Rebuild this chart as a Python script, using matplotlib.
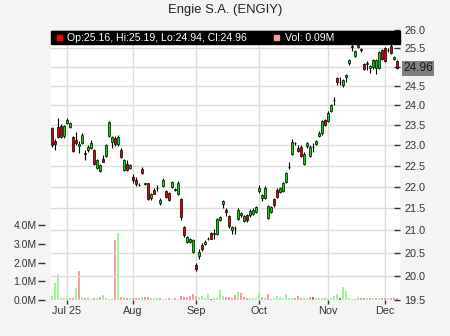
import matplotlib
matplotlib.use("Agg")
import matplotlib.pyplot as plt
import matplotlib.ticker as mticker
from matplotlib.patches import Rectangle
import pandas as pd

plt.rcParams['font.family'] = ['Liberation Sans', 'DejaVu Sans']

TITLE = "Engie S.A. (ENGIY)"

# trading days shown on the chart (NYSE holidays removed)
holidays = ["2025-07-04", "2025-09-01", "2025-11-27"]
dates = pd.bdate_range("2025-06-24", "2025-12-05")
dates = dates[~dates.isin(pd.to_datetime(holidays))]

opens = [23.42, 23.09, 23.44, 23.48, 23.22, 23.54, 23.44, 23.19, 23.12, 22.98,
         23.05, 22.80, 22.87, 22.94, 22.87, 22.45, 22.37, 22.67, 22.74, 23.22,
         23.07, 23.18, 23.02, 22.87, 22.40, 22.55, 22.45, 22.23, 22.15, 22.05,
         22.43, 22.08, 22.08, 21.74, 21.92, 21.97, 21.62, 22.03, 21.90, 21.86,
         21.99, 21.94, 21.84, 21.72, 21.08, 20.74, 20.75, 20.52, 20.25, 20.43,
         20.68, 20.70, 20.81, 20.95, 20.93, 20.93, 21.24, 21.61, 21.47, 21.32,
         21.00, 21.06, 21.26, 21.34, 21.21, 21.34, 21.34, 21.38, 21.42, 21.90,
         21.75, 21.74, 21.29, 21.42, 21.72, 21.93, 21.88, 21.90, 22.11, 22.47,
         22.78, 23.04, 22.94, 22.96, 22.55, 22.97, 22.73, 22.96, 23.02, 23.23,
         23.29, 23.62, 23.59, 23.85, 24.12, 24.70, 24.61, 24.52, 24.73, 25.09,
         25.52, 25.30, 25.54, 25.47, 25.07, 25.08, 24.98, 25.00, 24.98, 24.96,
         25.45, 25.50, 25.46, 25.55, 25.20, 25.16]
highs = [23.45, 23.15, 23.68, 23.52, 23.50, 23.68, 23.57, 23.22, 23.32, 23.09,
         23.31, 22.87, 22.99, 23.12, 22.90, 22.67, 22.55, 22.75, 23.02, 23.60,
         23.22, 23.22, 23.24, 22.92, 22.67, 22.63, 22.55, 22.31, 22.23, 22.08,
         22.46, 22.10, 22.10, 21.85, 21.97, 22.04, 21.73, 22.20, 21.93, 21.88,
         22.14, 21.97, 22.13, 21.75, 21.10, 20.88, 20.84, 20.82, 20.29, 20.58,
         20.71, 20.78, 20.85, 20.97, 21.04, 21.29, 21.33, 21.70, 21.50, 21.35,
         21.10, 21.11, 21.50, 21.42, 21.35, 21.37, 21.48, 21.50, 21.56, 22.04,
         21.84, 22.01, 21.58, 21.56, 21.75, 21.96, 21.99, 22.11, 22.35, 22.60,
         23.14, 23.08, 22.99, 22.99, 22.82, 23.07, 22.99, 23.04, 23.13, 23.34,
         23.62, 23.65, 23.84, 24.03, 24.21, 24.73, 24.72, 24.68, 24.82, 25.21,
         25.62, 25.45, 25.63, 25.50, 25.10, 25.16, 25.06, 25.21, 25.20, 25.42,
         25.48, 25.52, 25.50, 25.61, 25.30, 25.19]
lows = [22.95, 22.87, 23.18, 23.18, 23.18, 23.52, 23.41, 22.82, 23.00, 22.80,
        23.02, 22.64, 22.84, 22.91, 22.52, 22.42, 22.34, 22.58, 22.70, 23.19,
        22.92, 22.98, 22.98, 22.68, 22.37, 22.38, 22.42, 22.08, 22.01, 22.01,
        22.30, 22.05, 21.70, 21.70, 21.82, 21.90, 21.57, 22.00, 21.73, 21.67,
        21.96, 21.90, 21.81, 21.23, 20.86, 20.71, 20.72, 20.50, 20.12, 20.38,
        20.55, 20.67, 20.78, 20.80, 20.80, 20.90, 21.21, 21.51, 21.32, 21.06,
        20.93, 20.93, 21.23, 21.31, 21.18, 21.20, 21.31, 21.35, 21.39, 21.86,
        21.68, 21.71, 21.26, 21.39, 21.54, 21.73, 21.85, 21.87, 22.08, 22.43,
        22.75, 23.00, 22.84, 22.70, 22.52, 22.94, 22.70, 22.84, 22.99, 23.20,
        23.26, 23.46, 23.56, 23.82, 24.00, 24.52, 24.52, 24.48, 24.60, 25.05,
        25.42, 25.27, 25.50, 25.40, 24.91, 24.91, 24.84, 24.95, 24.82, 24.93,
        25.17, 25.14, 25.40, 25.35, 25.17, 24.94]
closes = [23.00, 23.02, 23.20, 23.21, 23.47, 23.61, 23.54, 22.86, 23.04, 23.03,
          23.25, 22.79, 22.96, 23.06, 22.55, 22.64, 22.52, 22.60, 22.99, 23.57,
          23.19, 23.02, 23.21, 22.71, 22.64, 22.40, 22.51, 22.15, 22.07, 22.04,
          22.33, 22.07, 21.72, 21.82, 21.84, 21.96, 21.70, 22.17, 21.76, 21.70,
          22.11, 21.93, 22.10, 21.30, 20.89, 20.85, 20.81, 20.79, 20.16, 20.53,
          20.58, 20.75, 20.82, 20.82, 20.94, 21.26, 21.30, 21.67, 21.42, 21.09,
          21.07, 21.06, 21.47, 21.39, 21.32, 21.23, 21.45, 21.47, 21.53, 21.98,
          21.81, 21.98, 21.55, 21.53, 21.57, 21.76, 21.96, 22.08, 22.32, 22.47,
          23.08, 23.04, 22.86, 22.73, 22.79, 23.04, 22.96, 22.96, 23.10, 23.31,
          23.59, 23.49, 23.81, 24.00, 24.13, 24.60, 24.60, 24.65, 24.77, 25.18,
          25.55, 25.42, 25.59, 25.45, 24.94, 25.09, 25.02, 25.18, 25.17, 25.39,
          25.20, 25.16, 25.44, 25.38, 25.26, 24.96]
# volume in millions of shares
volumes = [0.21, 0.93, 1.39, 0.11, 0.11, 0.11, 0.11, 0.11, 0.64, 1.55,
           0.14, 0.11, 0.14, 0.05, 0.11, 0.11, 0.14, 0.27, 0.11, 0.05,
           0.05, 3.21, 3.58, 0.14, 0.11, 0.11, 0.11, 0.11, 0.11, 0.11,
           0.14, 0.14, 0.14, 0.11, 0.11, 0.11, 0.11, 0.05, 0.05, 0.11,
           0.05, 0.11, 0.08, 0.21, 0.14, 0.14, 0.21, 0.34, 0.21, 0.14,
           0.21, 0.11, 0.34, 0.08, 0.11, 0.11, 0.53, 0.21, 0.14, 0.14,
           0.11, 0.27, 0.45, 0.36, 0.14, 0.11, 0.11, 0.11, 0.11, 0.37,
           0.14, 0.11, 0.32, 0.05, 0.11, 0.21, 0.14, 0.11, 0.32, 0.11,
           0.11, 0.11, 0.21, 0.11, 0.11, 0.11, 0.14, 0.14, 0.11, 0.11,
           0.11, 0.11, 0.11, 0.11, 0.21, 0.32, 0.11, 0.68, 0.50, 0.11,
           0.05, 0.05, 0.14, 0.11, 0.11, 0.11, 0.11, 0.11, 0.11, 0.11,
           0.11, 0.11, 0.11, 0.11, 0.11, 0.09]

price_ticks = [19.5, 20.0, 20.5, 21.0, 21.5, 22.0, 22.5, 23.0, 23.5, 24.0, 24.5, 25.0, 25.5, 26.0]
vol_ticks = [0, 1, 2, 3, 4]
month_labels = ["Jul 25", "Aug", "Sep", "Oct", "Nov", "Dec"]

UP = "#00e000"
DOWN = "#e60000"
VOL_UP = "#9cf59c"
VOL_DOWN = "#f59c9c"
VOL_FLAT = "#777777"
GRID = "#dcdcdc"
TXT = "#333333"

xs = list(range(len(dates)))
month_pos = [i for i in xs if i == 0 or dates[i].month != dates[i - 1].month][1:]

fig = plt.figure(figsize=(4.5, 3.36), dpi=100, facecolor="#f4f4f4")
ax = fig.add_axes([51 / 450, 36 / 336, 349 / 450, 270 / 336])
ax.set_facecolor("white")
axp = ax.twinx()

# volume (left axis)
vcolors = []
for i in xs:
    if i == 0 or closes[i] > closes[i - 1]:
        vcolors.append(VOL_UP)
    elif closes[i] < closes[i - 1]:
        vcolors.append(VOL_DOWN)
    else:
        vcolors.append(VOL_FLAT)
ax.bar(xs, volumes, width=0.7, color=vcolors, linewidth=0, zorder=2)
ax.set_ylim(0, 14.44)
ax.set_yticks(vol_ticks)
ax.set_yticklabels(["%.1fM" % v for v in vol_ticks])
ax.set_xlim(-0.35, 116)
ax.set_xticks(month_pos)
ax.set_xticklabels(month_labels)
ax.grid(axis="x", color=GRID, lw=1, zorder=0)
ax.set_axisbelow(True)


# price labels; the one hidden under the last-price tag is left blank
def price_fmt(v, pos):
    if abs(v - closes[-1]) < 0.2:
        return ""
    return "%.1f" % v


# candles (right axis, log scale)
axp.set_yscale("log")
axp.set_ylim(19.5, 26.0)
axp.yaxis.set_major_locator(mticker.FixedLocator(price_ticks))
axp.yaxis.set_minor_locator(mticker.NullLocator())
axp.yaxis.set_major_formatter(mticker.FuncFormatter(price_fmt))
axp.grid(axis="y", color=GRID, lw=1, zorder=0)
axp.set_axisbelow(True)

axp.vlines(xs, lows, highs, color="black", lw=0.8, zorder=3)
bottoms = [min(o, c) for o, c in zip(opens, closes)]
heights = [abs(c - o) for o, c in zip(opens, closes)]
ccolors = [UP if c > o else (DOWN if c < o else "black") for o, c in zip(opens, closes)]
axp.bar(xs, heights, width=0.72, bottom=bottoms, color=ccolors,
        edgecolor="black", linewidth=0.5, zorder=4)

for a in (ax, axp):
    for s in a.spines.values():
        s.set_visible(False)
ax.spines["left"].set_position(("outward", 4))

ax.tick_params(axis="y", direction="out", length=5, width=1, color=TXT,
               labelsize=7.5, labelcolor=TXT, pad=1.5)
ax.tick_params(axis="x", direction="out", length=3, width=1, color=TXT,
               labelsize=7.8, labelcolor=TXT, pad=1.5)
axp.tick_params(axis="y", direction="in", length=4, width=1, color=TXT,
                labelsize=7.8, labelcolor=TXT, pad=3)

# info bar on top
axp.add_patch(Rectangle((0, 1 - 14 / 270), 1, 13 / 270, transform=axp.transAxes,
                        color="black", zorder=10, clip_on=False))
axp.add_patch(Rectangle((6 / 349, 0.963), 5 / 349, 5 / 270, transform=axp.transAxes,
                        color="#ff0000", zorder=11, clip_on=False))
axp.add_patch(Rectangle((223 / 349, 0.963), 5 / 349, 5 / 270, transform=axp.transAxes,
                        color="#f59c9c", zorder=11, clip_on=False))
info = "Op:%.2f, Hi:%.2f, Lo:%.2f, Cl:%.2f" % (opens[-1], highs[-1], lows[-1], closes[-1])
axp.text(16 / 349, 0.972, info, transform=axp.transAxes, color="white",
         fontsize=7.6, va="center", ha="left", zorder=12)
axp.text(234 / 349, 0.972, "Vol: %.2fM" % volumes[-1], transform=axp.transAxes,
         color="white", fontsize=7.6, va="center", ha="left", zorder=12)

# last price tag
axp.annotate("%.2f" % closes[-1], xy=(1, closes[-1]), xycoords=("axes fraction", "data"),
             xytext=(2.2, 0), textcoords="offset points", va="center", ha="left",
             fontsize=8.6, color="#1a1a1a", annotation_clip=False,
             bbox=dict(boxstyle="square,pad=0.12", fc="#808080", ec="none"))

fig.text(0.5, 1 - 10 / 336, TITLE, ha="center", va="center", fontsize=9.4, color="#222222")

fig.savefig("out.png", dpi=100, facecolor=fig.get_facecolor())
